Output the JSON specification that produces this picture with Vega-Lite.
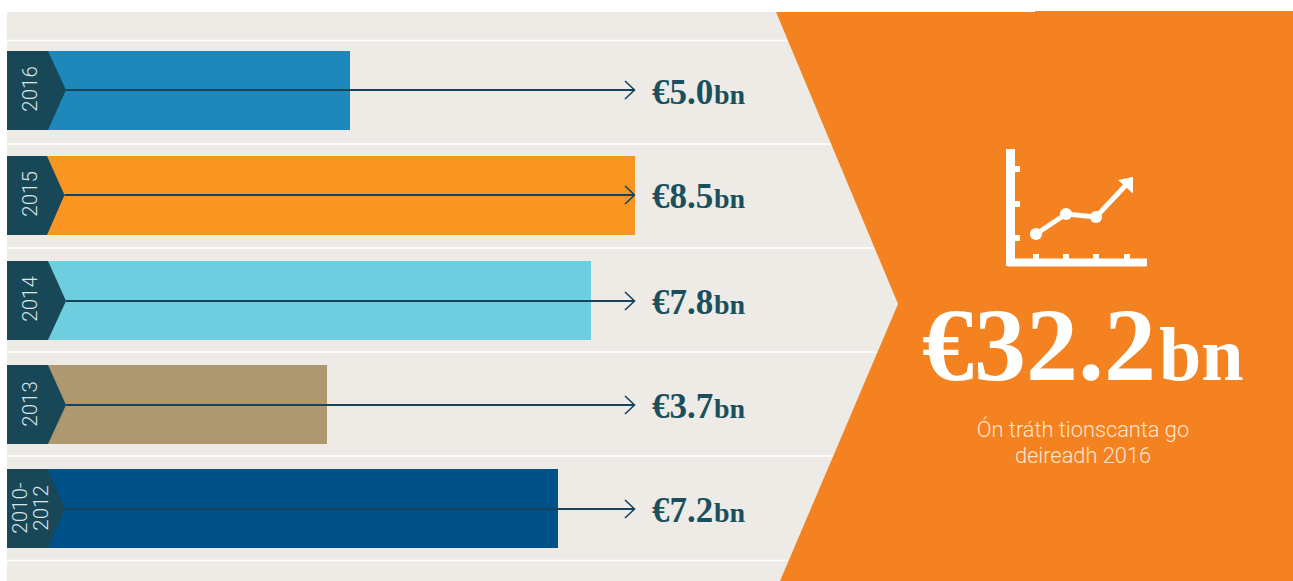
{
"$schema":"https://vega.github.io/schema/vega-lite/v6.json",
"width":1293,"height":581,"padding":0,
"autosize":{"type":"fit","contains":"padding"},
"background":"#ffffff",
"config":{"view":{"stroke":null}},
"datasets":{
"panel":[{"x0":7,"x1":1293,"y0":12,"y1":581}],
"lip":[{"x0":1035,"x1":1293,"y0":11,"y1":13}],
"seps":[{"x0":7,"x1":900,"y":40.5},{"x0":7,"x1":900,"y":144},{"x0":7,"x1":900,"y":248},{"x0":7,"x1":900,"y":352},{"x0":7,"x1":900,"y":456},{"x0":7,"x1":900,"y":560.5}],
"bars":[
{"period":"2016","value":5.0,"label":"€5.0","unit":"bn","start":7,"end":350,"top":51,"bottom":130,"mid":90,"tip":66,"head":634.5,"valueX":652,"unitX":714,"base":103.5},
{"period":"2015","value":8.5,"label":"€8.5","unit":"bn","start":7,"end":635,"top":156,"bottom":235,"mid":195,"tip":64.5,"head":634.5,"valueX":652,"unitX":714,"base":208},
{"period":"2014","value":7.8,"label":"€7.8","unit":"bn","start":7,"end":591,"top":261,"bottom":340,"mid":301,"tip":66,"head":634.5,"valueX":652,"unitX":714,"base":313.5},
{"period":"2013","value":3.7,"label":"€3.7","unit":"bn","start":7,"end":327,"top":365,"bottom":444,"mid":405,"tip":66,"head":634.5,"valueX":652,"unitX":714,"base":417.5},
{"period":"2010-2012","value":7.2,"label":"€7.2","unit":"bn","start":7,"end":558,"top":469,"bottom":548,"mid":509,"tip":65,"head":634.5,"valueX":652,"unitX":714,"base":521.5}
],
"chevrons":[
{"period":"2016","y":51,"s":7,"e":48},{"period":"2016","y":90,"s":7,"e":66},{"period":"2016","y":130,"s":7,"e":48},
{"period":"2015","y":156,"s":7,"e":47},{"period":"2015","y":195,"s":7,"e":64.5},{"period":"2015","y":235,"s":7,"e":47},
{"period":"2014","y":261,"s":7,"e":48},{"period":"2014","y":301,"s":7,"e":66},{"period":"2014","y":340,"s":7,"e":48},
{"period":"2013","y":365,"s":7,"e":48},{"period":"2013","y":405,"s":7,"e":66},{"period":"2013","y":444,"s":7,"e":48},
{"period":"2010-2012","y":469,"s":7,"e":48},{"period":"2010-2012","y":509,"s":7,"e":65},{"period":"2010-2012","y":548,"s":7,"e":48}
],
"heads":[
{"period":"2016","o":1,"x":625,"y":81},{"period":"2016","o":2,"x":634.5,"y":90},{"period":"2016","o":3,"x":625,"y":99},
{"period":"2015","o":1,"x":625,"y":186},{"period":"2015","o":2,"x":634.5,"y":195},{"period":"2015","o":3,"x":625,"y":204},
{"period":"2014","o":1,"x":625,"y":292},{"period":"2014","o":2,"x":634.5,"y":301},{"period":"2014","o":3,"x":625,"y":310},
{"period":"2013","o":1,"x":625,"y":396},{"period":"2013","o":2,"x":634.5,"y":405},{"period":"2013","o":3,"x":625,"y":414},
{"period":"2010-2012","o":1,"x":625,"y":500},{"period":"2010-2012","o":2,"x":634.5,"y":509},{"period":"2010-2012","o":3,"x":625,"y":518}
],
"years":[
{"text":"2016","x":30.5,"y":89},{"text":"2015","x":30.5,"y":194},{"text":"2014","x":30.5,"y":299},{"text":"2013","x":30.5,"y":404},
{"text":"2010-","x":20.5,"y":508},{"text":"2012","x":42,"y":508}
],
"orange":[{"y":12,"e":776,"r":1293},{"y":304,"e":898,"r":1293},{"y":581,"e":780,"r":1293}],
"axisRules":[
{"x0":1010.5,"x1":1010.5,"y0":149,"y1":266,"w":9},
{"x0":1008,"x1":1147,"y0":262.5,"y1":262.5,"w":8},
{"x0":1015,"x1":1020,"y0":169,"y1":169,"w":6},
{"x0":1015,"x1":1020,"y0":204,"y1":204,"w":6},
{"x0":1015,"x1":1020,"y0":238,"y1":238,"w":6},
{"x0":1036,"x1":1036,"y0":254,"y1":259,"w":6},
{"x0":1066,"x1":1066,"y0":254,"y1":259,"w":6},
{"x0":1096,"x1":1096,"y0":254,"y1":259,"w":6},
{"x0":1127,"x1":1127,"y0":254,"y1":259,"w":6}
],
"trend":[{"x":1036,"y":234},{"x":1066,"y":214},{"x":1096,"y":217},{"x":1126,"y":185}],
"trendDots":[{"x":1036,"y":234},{"x":1066,"y":214},{"x":1096,"y":217}],
"arrow":[{"y":177,"a":1133,"b":1133},{"y":180,"a":1118,"b":1133},{"y":193,"a":1132.5,"b":1133}],
"total":[{"t":"€32.2","u":"bn","x":922,"ux":1159,"y":380}],
"caption":[{"text":"Ón tráth tionscanta go","x":1083,"y":437},{"text":"deireadh 2016","x":1083,"y":463}]
},
"layer":[
{"data":{"name":"panel"},"mark":{"type":"rect","color":"#EEEBE6"},
 "encoding":{
  "x":{"field":"x0","type":"quantitative","scale":{"domain":[0,1293],"nice":false,"zero":false},"axis":null},"x2":{"field":"x1"},
  "y":{"field":"y0","type":"quantitative","scale":{"domain":[0,581],"reverse":true,"nice":false,"zero":false},"axis":null},"y2":{"field":"y1"}}},
{"data":{"name":"seps"},"mark":{"type":"rule","color":"#ffffff","strokeWidth":1.6},
 "encoding":{"x":{"field":"x0","type":"quantitative"},"x2":{"field":"x1"},"y":{"field":"y","type":"quantitative"}}},
{"data":{"name":"orange"},"mark":{"type":"area","orient":"horizontal","color":"#F58220"},
 "encoding":{"y":{"field":"y","type":"quantitative"},"x":{"field":"e","type":"quantitative"},"x2":{"field":"r"}}},
{"data":{"name":"lip"},"mark":{"type":"rect","color":"#F58220"},
 "encoding":{"x":{"field":"x0","type":"quantitative"},"x2":{"field":"x1"},"y":{"field":"y0","type":"quantitative"},"y2":{"field":"y1"}}},
{"data":{"name":"bars"},"mark":{"type":"rect"},
 "encoding":{"x":{"field":"start","type":"quantitative"},"x2":{"field":"end"},"y":{"field":"top","type":"quantitative"},"y2":{"field":"bottom"},
  "color":{"field":"period","type":"nominal","legend":null,"scale":{"domain":["2016","2015","2014","2013","2010-2012"],"range":["#1F88BA","#F99521","#6FCDE0","#AE9870","#00508A"]}}}},
{"data":{"name":"chevrons"},"mark":{"type":"area","orient":"horizontal","color":"#184858"},
 "encoding":{"y":{"field":"y","type":"quantitative"},"x":{"field":"s","type":"quantitative"},"x2":{"field":"e"},"detail":{"field":"period","type":"nominal"}}},
{"data":{"name":"bars"},"mark":{"type":"rule","color":"#15445A","strokeWidth":1.9},
 "encoding":{"x":{"field":"tip","type":"quantitative"},"x2":{"field":"head"},"y":{"field":"mid","type":"quantitative"}}},
{"data":{"name":"heads"},"mark":{"type":"line","color":"#15445A","strokeWidth":1.6},
 "encoding":{"x":{"field":"x","type":"quantitative"},"y":{"field":"y","type":"quantitative"},"detail":{"field":"period","type":"nominal"},"order":{"field":"o","type":"quantitative"}}},
{"data":{"name":"years"},"mark":{"type":"text","angle":270,"align":"center","baseline":"middle","font":"Roboto","fontWeight":300,"fontSize":20.5,"color":"#DCE5E6"},
 "encoding":{"x":{"field":"x","type":"quantitative"},"y":{"field":"y","type":"quantitative"},"text":{"field":"text","type":"nominal"}}},
{"data":{"name":"bars"},"mark":{"type":"text","align":"left","baseline":"alphabetic","font":"Liberation Serif","fontWeight":"bold","fontSize":35,"color":"#1A4F5E"},
 "encoding":{"x":{"field":"valueX","type":"quantitative"},"y":{"field":"base","type":"quantitative"},"text":{"field":"label","type":"nominal"}}},
{"data":{"name":"bars"},"mark":{"type":"text","align":"left","baseline":"alphabetic","font":"Liberation Serif","fontWeight":"bold","fontSize":28,"color":"#1A4F5E"},
 "encoding":{"x":{"field":"unitX","type":"quantitative"},"y":{"field":"base","type":"quantitative"},"text":{"field":"unit","type":"nominal"}}},
{"data":{"name":"axisRules"},"mark":{"type":"rule","color":"#ffffff"},
 "encoding":{"x":{"field":"x0","type":"quantitative"},"x2":{"field":"x1"},"y":{"field":"y0","type":"quantitative"},"y2":{"field":"y1"},"strokeWidth":{"field":"w","type":"quantitative","scale":null}}},
{"data":{"name":"trend"},"mark":{"type":"line","color":"#ffffff","strokeWidth":5},
 "encoding":{"x":{"field":"x","type":"quantitative"},"y":{"field":"y","type":"quantitative"}}},
{"data":{"name":"trendDots"},"mark":{"type":"point","shape":"circle","filled":true,"opacity":1,"color":"#ffffff","size":150},
 "encoding":{"x":{"field":"x","type":"quantitative"},"y":{"field":"y","type":"quantitative"}}},
{"data":{"name":"arrow"},"mark":{"type":"area","orient":"horizontal","color":"#ffffff"},
 "encoding":{"y":{"field":"y","type":"quantitative"},"x":{"field":"a","type":"quantitative"},"x2":{"field":"b"}}},
{"data":{"name":"total"},"mark":{"type":"text","align":"left","baseline":"alphabetic","font":"Liberation Serif","fontWeight":"bold","fontSize":104,"color":"#ffffff"},
 "encoding":{"x":{"field":"x","type":"quantitative"},"y":{"field":"y","type":"quantitative"},"text":{"field":"t","type":"nominal"}}},
{"data":{"name":"total"},"mark":{"type":"text","align":"left","baseline":"alphabetic","font":"Liberation Serif","fontWeight":"bold","fontSize":76,"color":"#ffffff"},
 "encoding":{"x":{"field":"ux","type":"quantitative"},"y":{"field":"y","type":"quantitative"},"text":{"field":"u","type":"nominal"}}},
{"data":{"name":"caption"},"mark":{"type":"text","align":"center","baseline":"alphabetic","font":"Roboto","fontWeight":300,"fontSize":21.8,"color":"#FDE6CF"},
 "encoding":{"x":{"field":"x","type":"quantitative"},"y":{"field":"y","type":"quantitative"},"text":{"field":"text","type":"nominal"}}}
]
}
